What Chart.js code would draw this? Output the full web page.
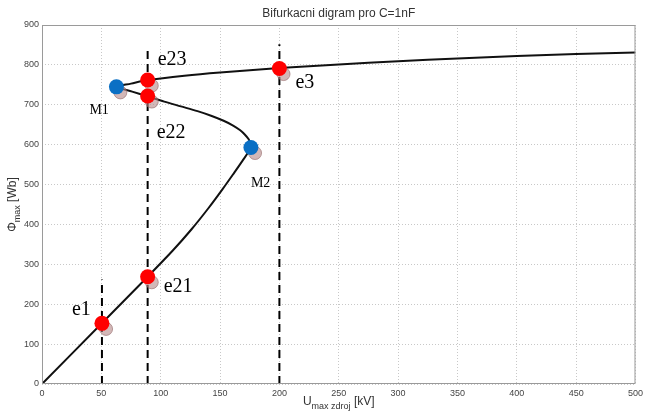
<!DOCTYPE html>
<html>
<head>
<meta charset="utf-8">
<script src="https://cdn.jsdelivr.net/npm/chart.js@4/dist/chart.umd.min.js"></script>
<style>
  html, body { margin: 0; padding: 0; background: #fff; }
  #wrap { width: 647px; height: 411px; }
</style>
</head>
<body>
<div id="wrap"><canvas id="bifChart" width="647" height="411"></canvas></div>
<script>
// S-shaped bifurcation curve: lower branch, unstable middle branch, upper branch
const curveU   = [0, 50, 89, 110, 126, 140, 152, 162, 169, 174, 176,
                  175.5, 174, 171, 167, 161, 153, 143, 131, 117, 103, 89, 76, 63,
                  75, 89, 120, 150, 200, 250, 300, 350, 400, 450, 500];
const curvePhi = [0, 151, 269, 334, 388, 440, 488, 530, 560, 582, 595,
                  604, 614, 625, 636, 648, 660, 672, 684, 696, 708, 721, 733, 745,
                  753, 762, 773, 781, 792, 801, 809, 816, 822, 827, 831];

// equilibrium points (red)
const eqNames = ["e1", "e21", "e22", "e23", "e3"];
const eqU     = [50.5, 89, 89, 89, 200];
const eqPhi   = [152, 269, 722, 762, 791];

// fold points (blue)
const foldNames = ["M1", "M2"];
const foldU     = [62.7, 176];
const foldPhi   = [745, 593];

// faded duplicate markers sitting just behind the coloured ones
const ghostU   = [54, 92.5, 92.5, 92.5, 203.5, 66, 179.5];
const ghostPhi = [138, 255, 708, 748, 777, 731, 579];

// vertical cuts at constant source voltage
const cutU   = [50.5, 89, 200];
const cutTop = [262, 835, 852];

// label offsets in px from their point (dx to left edge, dy to baseline)
const eqLabelDx   = [-30, 16, 9, 10, 16];
const eqLabelDy   = [-8, 15, 42, -15, 20];
const foldLabelDx = [-27, 0];
const foldLabelDy = [27, 40];

const xTicks = [0, 50, 100, 150, 200, 250, 300, 350, 400, 450, 500];
const yTicks = [0, 100, 200, 300, 400, 500, 600, 700, 800, 900];

const zip = (xs, ys) => xs.map((x, i) => ({ x: x, y: ys[i] }));

const datasets = [];

datasets.push({
  label: "equilibria",
  data: zip(eqU, eqPhi),
  showLine: false,
  pointRadius: 7.5,
  pointBackgroundColor: "#ff0000",
  pointBorderWidth: 0,
  order: 0,
});
datasets.push({
  label: "folds",
  data: zip(foldU, foldPhi),
  showLine: false,
  pointRadius: 7.5,
  pointBackgroundColor: "#0a6fc4",
  pointBorderWidth: 0,
  order: 0,
});
datasets.push({
  label: "ghost",
  data: zip(ghostU, ghostPhi),
  showLine: false,
  pointRadius: 6.5,
  pointBackgroundColor: "rgba(180,135,135,0.6)",
  pointBorderColor: "rgba(140,95,95,0.55)",
  pointBorderWidth: 1,
  order: 1,
});
datasets.push({
  label: "curve",
  data: zip(curveU, curvePhi),
  showLine: true,
  borderColor: "#111",
  borderWidth: 2,
  pointRadius: 0,
  tension: 0.3,
  order: 2,
});
cutU.forEach((u, i) => {
  datasets.push({
    label: "cut" + i,
    data: [{ x: u, y: 0 }, { x: u, y: cutTop[i] }],
    showLine: true,
    borderColor: "#000",
    borderWidth: 2,
    borderDash: [8, 5],
    pointRadius: 0,
    order: 3,
  });
});

const frameAndText = {
  id: "frameAndText",
  afterDraw(chart) {
    const { ctx, chartArea: a, scales } = chart;
    const sx = scales.x, sy = scales.y;
    ctx.save();

    // axes box
    ctx.strokeStyle = "#9a9a9a";
    ctx.lineWidth = 1;
    ctx.strokeRect(a.left + 0.5, a.top + 0.5, a.right - a.left - 1, a.bottom - a.top - 1);

    // title
    ctx.fillStyle = "#333";
    ctx.font = "12px 'Liberation Sans', Arial, sans-serif";
    ctx.textAlign = "center";
    ctx.textBaseline = "alphabetic";
    ctx.fillText("Bifurkacni digram pro C=1nF", (a.left + a.right) / 2, 17);

    // x axis label with subscript
    ctx.textAlign = "left";
    const big = "12px 'Liberation Sans', Arial, sans-serif";
    const small = "9px 'Liberation Sans', Arial, sans-serif";
    const parts = [["U", big, 0], ["max zdroj", small, 4], [" [kV]", big, 0]];
    let w = 0;
    parts.forEach(p => { ctx.font = p[1]; w += ctx.measureText(p[0]).width; });
    let px = (a.left + a.right) / 2 - w / 2;
    parts.forEach(p => {
      ctx.font = p[1];
      ctx.fillText(p[0], px, 405 + p[2]);
      px += ctx.measureText(p[0]).width;
    });

    // y axis label, rotated
    ctx.save();
    ctx.translate(16, (a.top + a.bottom) / 2);
    ctx.rotate(-Math.PI / 2);
    const yparts = [["\u03a6", big, 0], ["max", small, 4], [" [Wb]", big, 0]];
    w = 0;
    yparts.forEach(p => { ctx.font = p[1]; w += ctx.measureText(p[0]).width; });
    px = -w / 2;
    yparts.forEach(p => {
      ctx.font = p[1];
      ctx.fillText(p[0], px, p[2]);
      px += ctx.measureText(p[0]).width;
    });
    ctx.restore();

    // point names
    ctx.fillStyle = "#000";
    ctx.font = "20px 'Liberation Serif', 'Times New Roman', serif";
    eqNames.forEach((n, i) => {
      ctx.fillText(n, sx.getPixelForValue(eqU[i]) + eqLabelDx[i], sy.getPixelForValue(eqPhi[i]) + eqLabelDy[i]);
    });
    ctx.font = "14px 'Liberation Serif', 'Times New Roman', serif";
    foldNames.forEach((n, i) => {
      ctx.fillText(n, sx.getPixelForValue(foldU[i]) + foldLabelDx[i], sy.getPixelForValue(foldPhi[i]) + foldLabelDy[i]);
    });

    ctx.restore();
  },
};

const tickFont = { family: "'Liberation Sans', Arial, sans-serif", size: 9 };

new Chart(document.getElementById("bifChart"), {
  type: "scatter",
  data: { datasets: datasets },
  options: {
    responsive: false,
    animation: false,
    events: [],
    layout: { padding: { top: 25, right: 9, left: 0, bottom: 0 } },
    plugins: { legend: { display: false }, tooltip: { enabled: false } },
    scales: {
      x: {
        type: "linear",
        min: 0,
        max: 500,
        afterBuildTicks: (s) => { s.ticks = xTicks.map(v => ({ value: v })); },
        afterFit: (s) => { s.height = 27; },
        ticks: { color: "#444", font: tickFont, padding: 4, maxRotation: 0 },
        grid: { color: "#c8c8c8", drawTicks: false },
        border: { display: false, dash: [1, 2] },
      },
      y: {
        type: "linear",
        min: 0,
        max: 900,
        afterBuildTicks: (s) => { s.ticks = yTicks.map(v => ({ value: v })); },
        afterFit: (s) => { s.width = 42; },
        ticks: { color: "#444", font: tickFont, padding: 3 },
        grid: { color: "#c8c8c8", drawTicks: false },
        border: { display: false, dash: [1, 2] },
      },
    },
  },
  plugins: [frameAndText],
});
</script>
</body>
</html>
